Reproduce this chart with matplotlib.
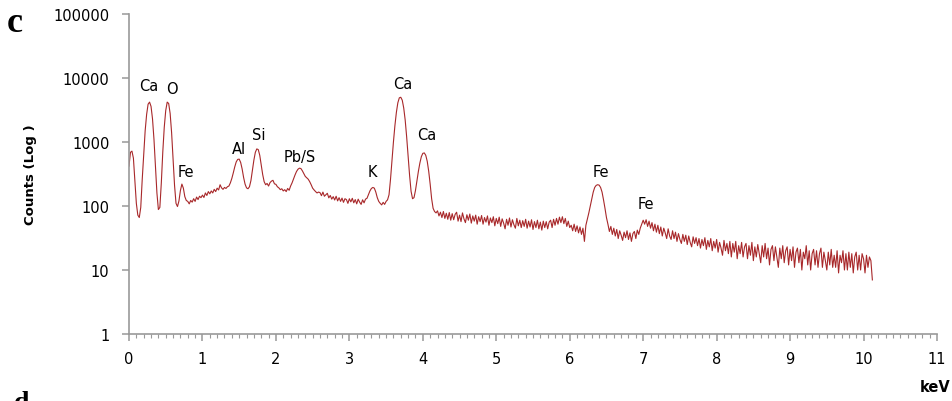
import numpy as np
import matplotlib
matplotlib.use('Agg')
import matplotlib.pyplot as plt
from matplotlib.ticker import MultipleLocator, FixedLocator

# EDS spectrum, channel width 0.02 keV starting at 0 keV (10 values per row = 0.2 keV)
step = 0.02
counts = [
    420, 690, 720, 560, 250, 110, 72, 66, 95, 260,          # 0.0
    620, 1500, 2700, 3900, 4200, 3600, 2300, 1100, 420, 160,
    88, 95, 230, 700, 1700, 3100, 4200, 4000, 2800, 1400,
    560, 210, 110, 98, 120, 175, 220, 190, 140, 122,
    118, 108, 122, 115, 130, 118, 138, 126, 142, 135,
    148, 136, 160, 146, 168, 155, 172, 160, 182, 168,       # 1.0
    190, 178, 215, 192, 182, 195, 188, 200, 205, 230,
    270, 330, 410, 490, 535, 540, 480, 380, 280, 220,
    192, 186, 200, 250, 360, 520, 690, 780, 760, 620,
    440, 310, 240, 215, 225, 205, 232, 245, 252, 222,
    218, 200, 192, 180, 186, 172, 180, 168, 188, 176,       # 2.0
    205, 230, 265, 305, 345, 375, 390, 385, 355, 320,
    290, 275, 262, 240, 215, 190, 178, 168, 160, 165,
    162, 145, 165, 142, 150, 158, 134, 146, 128, 140,
    124, 142, 120, 135, 118, 133, 114, 130, 126, 110,
    130, 116, 132, 112, 126, 108, 128, 115, 106, 125,       # 3.0
    112, 128, 132, 150, 172, 188, 195, 190, 165, 135,
    118, 110, 104, 114, 106, 118, 125, 150, 260, 520,
    1000, 1800, 2900, 4100, 4900, 5000, 4500, 3400, 2200, 1200,
    600, 300, 170, 130, 135, 175, 250, 350, 470, 590,
    665, 675, 620, 500, 350, 220, 130, 92, 82, 78,          # 4.0
    84, 70, 80, 66, 82, 64, 77, 62, 79, 60,
    76, 61, 74, 80, 58, 72, 57, 78, 63, 55,
    73, 60, 75, 54, 70, 58, 72, 52, 68, 57,
    71, 52, 66, 56, 70, 50, 65, 55, 68, 49,
    64, 53, 67, 48, 63, 54, 44, 62, 50, 65,                 # 5.0
    47, 61, 51, 45, 64, 49, 60, 46, 59, 48,
    62, 45, 58, 47, 61, 43, 57, 46, 60, 44,
    56, 42, 58, 46, 57, 44, 56, 60, 46, 62,
    50, 64, 52, 67, 55, 68, 53, 64, 48, 58,
    46, 50, 41, 52, 40, 49, 38, 47, 36, 45,                 # 6.0
    28, 50, 62, 78, 100, 130, 165, 195, 210, 215,
    212, 195, 165, 125, 92, 66, 52, 40, 48, 36,
    45, 34, 43, 31, 41, 35, 29, 39, 32, 41,
    30, 38, 28, 37, 40, 31, 42, 36, 45, 52,
    60, 52, 61, 48, 58, 45, 55, 41, 52, 39,                 # 7.0
    50, 37, 47, 34, 45, 38, 31, 44, 34, 30,
    41, 31, 39, 28, 37, 30, 26, 36, 28, 35,
    25, 34, 27, 23, 33, 26, 32, 24, 31, 22,
    30, 24, 32, 21, 29, 23, 31, 20, 28, 22,
    30, 19, 27, 22, 17, 29, 20, 26, 18, 28,                 # 8.0
    16, 26, 19, 28, 15, 24, 18, 27, 16, 23,
    26, 15, 24, 17, 27, 14, 23, 16, 25, 18,
    13, 24, 16, 26, 15, 22, 12, 21, 24, 14,
    23, 16, 11, 22, 15, 24, 13, 20, 23, 12,
    21, 14, 23, 11, 19, 22, 13, 21, 10, 19,                 # 9.0
    15, 24, 12, 20, 10, 18, 21, 12, 20, 11,
    18, 22, 11, 19, 14, 10, 19, 12, 21, 11,
    17, 11, 20, 9, 17, 13, 20, 10, 18, 10,
    19, 11, 18, 9, 16, 19, 10, 17, 10, 18,
    15, 9, 17, 11, 16, 14, 7,                               # 10.0
]
kev = np.arange(len(counts)) * step

# peak labels
peakNames = ['Ca', 'O', 'Fe', 'Al', 'Si', 'Pb/S', 'K', 'Ca', 'Ca', 'Fe', 'Fe']
labelKev = [0.27, 0.585, 0.775, 1.497, 1.77, 2.33, 3.32, 3.73, 4.06, 6.43, 7.04]
labelCounts = [7500, 6950, 352, 805, 1333, 583, 340, 8060, 1333, 352, 111]

xTicks = list(range(0, 12))
yTicks = [1, 10, 100, 1000, 10000, 100000]
yTickLabels = ['1', '10', '100', '1000', '10000', '100000']

axisGray = '#999999'
lineRed = '#a8282a'

fig = plt.figure(figsize=(9.53, 4.02), dpi=100)
ax = fig.add_axes([129/953, 1 - 335/402, (937 - 129)/953, (335 - 15)/402])

ax.plot(kev, counts, color=lineRed, lw=0.8)
ax.set_yscale('log')
ax.set_xlim(0, 11)
ax.set_ylim(1, 100000)

ax.xaxis.set_major_locator(FixedLocator(xTicks))
ax.xaxis.set_minor_locator(MultipleLocator(0.1))
ax.yaxis.set_major_locator(FixedLocator(yTicks))
ax.yaxis.set_minor_locator(FixedLocator([]))
ax.set_yticklabels(yTickLabels)

for side in ['top', 'right']:
    ax.spines[side].set_visible(False)
for side in ['left', 'bottom']:
    ax.spines[side].set_color(axisGray)
    ax.spines[side].set_linewidth(1.2)

ax.tick_params(axis='x', which='major', length=5, width=1.1, color=axisGray,
               labelsize=10.5, pad=7)
ax.tick_params(axis='x', which='minor', length=3, width=0.8, color=axisGray)
ax.tick_params(axis='y', which='major', length=5, width=1.1, color=axisGray,
               labelsize=10.5, pad=9)

ax.set_ylabel('Counts (Log )', fontsize=9.5, fontweight='bold', labelpad=12)

for name, xx, yy in zip(peakNames, labelKev, labelCounts):
    ax.text(xx, yy, name, ha='center', va='center', fontsize=10.5)

fig.text(15/953, 1 - 24/402, 'c', family='Liberation Serif', fontweight='bold',
         fontsize=26, ha='center', va='center')
fig.text(22/953, 1 - 391/402, 'd', family='Liberation Serif', fontweight='bold',
         fontsize=20, ha='center', va='top')
fig.text(951/953, 1 - 388/402, 'keV', fontweight='bold', fontsize=10.5,
         ha='right', va='center')

fig.savefig('out.png', dpi=100)
